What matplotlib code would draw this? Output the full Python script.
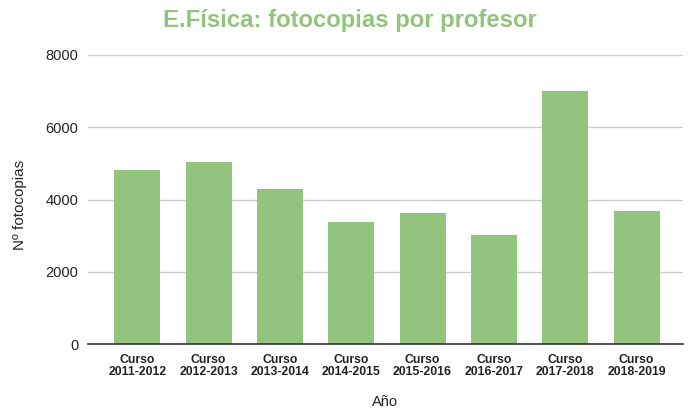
import matplotlib
matplotlib.use("Agg")
import matplotlib.pyplot as plt

categories = ["Curso\n2011-2012", "Curso\n2012-2013", "Curso\n2013-2014", "Curso\n2014-2015",
              "Curso\n2015-2016", "Curso\n2016-2017", "Curso\n2017-2018", "Curso\n2018-2019"]
values = [4820, 5050, 4290, 3390, 3625, 3030, 6990, 3695]
yticks = [0, 2000, 4000, 6000, 8000]

plt.rcParams['font.family'] = ['Liberation Sans', 'DejaVu Sans']

W, H = 688, 413
fig = plt.figure(figsize=(W/100, H/100), dpi=100)
ax = fig.add_axes([88/W, 1-344/H, (683-88)/W, (344-55)/H])

green = "#93c47d"
x = range(len(categories))
ax.bar(x, values, width=0.645, color=green, zorder=3)

ax.set_ylim(0, 8000)
ax.set_xlim(-0.69, 7.65)
ax.set_yticks(yticks)
ax.set_yticklabels([str(v) for v in yticks], fontsize=10.5, color="#222222")
ax.set_xticks(list(x))
ax.set_xticklabels(categories, fontsize=8.8, fontweight="bold", color="#222222", linespacing=1.05)
ax.tick_params(axis='both', length=0)
ax.tick_params(axis='y', pad=7)
ax.tick_params(axis='x', pad=7)

ax.grid(axis='y', color="#cccccc", linewidth=1, zorder=0)
for s in ["top", "right", "left"]:
    ax.spines[s].set_visible(False)
ax.spines["bottom"].set_color("#333333")
ax.spines["bottom"].set_linewidth(1.2)
ax.spines["bottom"].set_zorder(4)

fig.text(20/W, 1-205/H, "Nº fotocopias", ha="center", va="center", rotation=90,
         fontsize=11, color="#222222")
fig.text(385/W, 1-402/H, "Año", ha="center", va="center", fontsize=10.5, color="#222222")
fig.text(350/W, 1-20/H, "E.Física: fotocopias por profesor", ha="center", va="center",
         fontsize=17.2, fontweight="bold", color=green)

fig.savefig("out.png", dpi=100)
